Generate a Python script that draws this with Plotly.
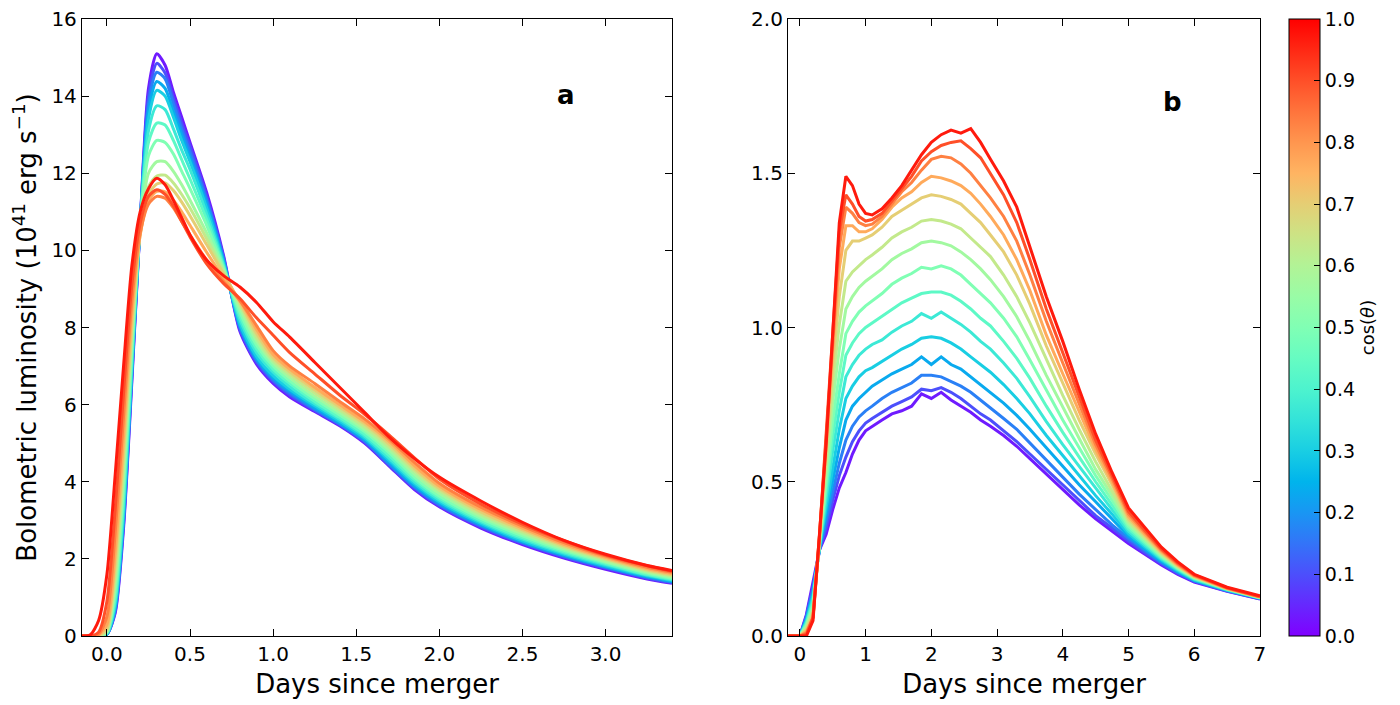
import math
import plotly.graph_objects as go

# cos(theta) of each viewing-angle bin (15 bins over the upper hemisphere)
COS_THETA = [0.033, 0.1, 0.167, 0.233, 0.3, 0.367, 0.433, 0.5, 0.567, 0.633, 0.7, 0.767, 0.833, 0.9, 0.967]

# Panel a: bolometric luminosity [1e41 erg/s] vs days since merger
DAYS_A = [-0.15, -0.1, -0.05, 0.0, 0.05, 0.1, 0.15, 0.2, 0.25, 0.3, 0.35, 0.4, 0.45, 0.5, 0.6, 0.7,
          0.8, 0.9, 1.0, 1.1, 1.25, 1.4, 1.55, 1.7, 1.85, 2.0, 2.25, 2.5, 2.75, 3.0, 3.25, 3.4]
LUM_A_00 = [0, 0, 0, 0.05, 0.6, 2.8, 6.6, 10.7, 14.2, 15.1, 14.8, 14.1, 13.45, 12.8, 11.5, 9.9, 7.9, 7.05, 6.55, 6.2, 5.82, 5.45, 5.0, 4.4, 3.8, 3.35, 2.8, 2.37, 2.02, 1.73, 1.48, 1.37]
LUM_A_01 = [0, 0, 0, 0.05, 0.65, 2.9, 6.7, 10.7, 14.0, 14.85, 14.6, 13.95, 13.3, 12.7, 11.4, 9.85, 7.95, 7.1, 6.6, 6.25, 5.85, 5.48, 5.03, 4.42, 3.83, 3.38, 2.83, 2.4, 2.05, 1.76, 1.5, 1.39]
LUM_A_02 = [0, 0, 0, 0.05, 0.7, 3.0, 6.8, 10.7, 13.8, 14.62, 14.45, 13.8, 13.15, 12.55, 11.3, 9.8, 8.0, 7.15, 6.65, 6.3, 5.88, 5.5, 5.06, 4.45, 3.87, 3.41, 2.86, 2.42, 2.07, 1.78, 1.52, 1.4]
LUM_A_03 = [0, 0, 0, 0.05, 0.75, 3.1, 6.9, 10.7, 13.6, 14.38, 14.2, 13.6, 13.0, 12.4, 11.2, 9.75, 8.05, 7.2, 6.7, 6.35, 5.92, 5.53, 5.1, 4.5, 3.9, 3.45, 2.89, 2.45, 2.1, 1.8, 1.54, 1.42]
LUM_A_04 = [0, 0, 0, 0.06, 0.8, 3.2, 7.0, 10.7, 13.4, 14.15, 14.0, 13.45, 12.85, 12.3, 11.1, 9.7, 8.1, 7.25, 6.75, 6.4, 5.97, 5.57, 5.13, 4.55, 3.95, 3.48, 2.92, 2.47, 2.12, 1.82, 1.56, 1.44]
LUM_A_05 = [0, 0, 0, 0.07, 0.9, 3.4, 7.1, 10.7, 13.1, 13.75, 13.65, 13.15, 12.6, 12.1, 10.95, 9.65, 8.2, 7.35, 6.85, 6.47, 6.02, 5.62, 5.18, 4.6, 4.0, 3.53, 2.96, 2.51, 2.15, 1.85, 1.58, 1.46]
LUM_A_06 = [0, 0, 0, 0.08, 1.0, 3.6, 7.3, 10.7, 12.8, 13.3, 13.25, 12.85, 12.35, 11.85, 10.8, 9.6, 8.3, 7.45, 6.92, 6.55, 6.08, 5.67, 5.23, 4.67, 4.06, 3.58, 3.0, 2.55, 2.18, 1.88, 1.6, 1.48]
LUM_A_07 = [0, 0, 0, 0.1, 1.2, 3.9, 7.5, 10.7, 12.45, 12.85, 12.8, 12.5, 12.05, 11.6, 10.65, 9.55, 8.4, 7.55, 7.0, 6.62, 6.15, 5.73, 5.3, 4.75, 4.12, 3.63, 3.05, 2.6, 2.22, 1.91, 1.63, 1.5]
LUM_A_08 = [0, 0, 0, 0.12, 1.4, 4.2, 7.7, 10.6, 12.0, 12.3, 12.3, 12.05, 11.7, 11.3, 10.45, 9.5, 8.5, 7.65, 7.08, 6.7, 6.22, 5.8, 5.36, 4.82, 4.2, 3.7, 3.1, 2.65, 2.26, 1.94, 1.66, 1.53]
LUM_A_09 = [0, 0, 0, 0.15, 1.6, 4.5, 7.9, 10.5, 11.65, 11.93, 11.95, 11.75, 11.45, 11.1, 10.3, 9.45, 8.6, 7.75, 7.15, 6.78, 6.3, 5.87, 5.43, 4.9, 4.28, 3.77, 3.16, 2.7, 2.3, 1.98, 1.69, 1.56]
LUM_A_10 = [0, 0, 0.02, 0.2, 1.9, 4.8, 8.1, 10.4, 11.45, 11.72, 11.75, 11.55, 11.25, 10.9, 10.15, 9.4, 8.65, 7.85, 7.22, 6.85, 6.38, 5.94, 5.5, 4.97, 4.35, 3.83, 3.22, 2.75, 2.34, 2.01, 1.72, 1.59]
LUM_A_11 = [0, 0, 0.03, 0.3, 2.2, 5.2, 8.4, 10.4, 11.3, 11.53, 11.52, 11.3, 11.0, 10.65, 9.95, 9.3, 8.7, 7.95, 7.3, 6.92, 6.45, 6.0, 5.56, 5.04, 4.42, 3.89, 3.28, 2.8, 2.38, 2.04, 1.75, 1.62]
LUM_A_12 = [0, 0, 0.05, 0.5, 2.7, 5.7, 8.7, 10.45, 11.2, 11.4, 11.35, 11.1, 10.75, 10.4, 9.75, 9.2, 8.7, 8.05, 7.4, 7.0, 6.55, 6.08, 5.63, 5.1, 4.5, 3.96, 3.34, 2.85, 2.42, 2.07, 1.78, 1.65]
LUM_A_13 = [0, 0, 0.1, 0.9, 3.3, 6.3, 9.1, 10.7, 11.4, 11.57, 11.45, 11.15, 10.75, 10.35, 9.65, 9.15, 8.75, 8.25, 7.8, 7.35, 6.8, 6.25, 5.75, 5.2, 4.62, 4.07, 3.42, 2.9, 2.47, 2.1, 1.82, 1.68]
LUM_A_14 = [0, 0.03, 0.4, 1.6, 4.2, 7.0, 9.6, 11.0, 11.6, 11.87, 11.7, 11.3, 10.85, 10.4, 9.75, 9.35, 9.05, 8.65, 8.15, 7.75, 7.1, 6.45, 5.8, 5.15, 4.6, 4.12, 3.5, 2.95, 2.48, 2.12, 1.83, 1.7]

# Panel b: luminosity of the second model [1e41 erg/s]
DAYS_B = [-0.2, 0.0, 0.1, 0.2, 0.3, 0.4, 0.5, 0.6, 0.7, 0.8, 0.9, 1.0, 1.1, 1.25, 1.4, 1.55, 1.7, 1.85, 2.0, 2.15,
          2.3, 2.45, 2.6, 2.75, 2.9, 3.1, 3.3, 3.5, 3.75, 4.0, 4.25, 4.5, 4.75, 5.0, 5.25, 5.5, 5.75, 6.0, 6.5, 7.0]
LUM_B_00 = [0, 0.0, 0.07, 0.17, 0.28, 0.33, 0.41, 0.48, 0.53, 0.59, 0.635, 0.665, 0.68, 0.70, 0.72, 0.73, 0.745, 0.785, 0.77, 0.79, 0.765, 0.745, 0.725, 0.70, 0.68, 0.65, 0.615, 0.575, 0.525, 0.475, 0.425, 0.38, 0.34, 0.30, 0.265, 0.23, 0.20, 0.175, 0.145, 0.12]
LUM_B_01 = [0, 0.0, 0.065, 0.16, 0.28, 0.35, 0.44, 0.52, 0.58, 0.63, 0.665, 0.69, 0.705, 0.725, 0.745, 0.76, 0.775, 0.80, 0.795, 0.805, 0.79, 0.77, 0.745, 0.72, 0.70, 0.665, 0.63, 0.59, 0.54, 0.49, 0.44, 0.39, 0.35, 0.308, 0.27, 0.234, 0.203, 0.177, 0.146, 0.121]
LUM_B_02 = [0, 0.0, 0.06, 0.15, 0.28, 0.37, 0.47, 0.56, 0.635, 0.68, 0.71, 0.73, 0.745, 0.77, 0.79, 0.805, 0.82, 0.845, 0.845, 0.84, 0.825, 0.81, 0.79, 0.765, 0.74, 0.705, 0.67, 0.625, 0.57, 0.515, 0.46, 0.41, 0.36, 0.316, 0.276, 0.238, 0.206, 0.179, 0.147, 0.122]
LUM_B_03 = [0, 0.0, 0.055, 0.14, 0.29, 0.40, 0.51, 0.61, 0.70, 0.745, 0.77, 0.79, 0.81, 0.83, 0.85, 0.865, 0.88, 0.905, 0.88, 0.905, 0.88, 0.865, 0.84, 0.815, 0.79, 0.755, 0.715, 0.67, 0.61, 0.55, 0.49, 0.435, 0.38, 0.324, 0.282, 0.242, 0.209, 0.18, 0.148, 0.122]
LUM_B_04 = [0, 0.0, 0.05, 0.13, 0.29, 0.42, 0.55, 0.67, 0.77, 0.81, 0.84, 0.86, 0.87, 0.89, 0.91, 0.93, 0.945, 0.965, 0.97, 0.965, 0.95, 0.93, 0.905, 0.88, 0.855, 0.815, 0.77, 0.72, 0.65, 0.585, 0.52, 0.455, 0.395, 0.332, 0.288, 0.246, 0.212, 0.182, 0.149, 0.123]
LUM_B_05 = [0, 0.0, 0.045, 0.12, 0.29, 0.45, 0.60, 0.73, 0.84, 0.88, 0.91, 0.93, 0.945, 0.96, 0.985, 1.005, 1.02, 1.045, 1.03, 1.05, 1.03, 1.01, 0.985, 0.955, 0.93, 0.885, 0.835, 0.775, 0.695, 0.62, 0.55, 0.48, 0.41, 0.34, 0.294, 0.25, 0.215, 0.184, 0.15, 0.124]
LUM_B_06 = [0, 0.0, 0.04, 0.11, 0.30, 0.48, 0.65, 0.79, 0.91, 0.95, 0.98, 1.00, 1.015, 1.035, 1.06, 1.08, 1.095, 1.11, 1.115, 1.115, 1.105, 1.085, 1.06, 1.03, 1.005, 0.955, 0.90, 0.835, 0.745, 0.66, 0.58, 0.50, 0.425, 0.348, 0.30, 0.254, 0.218, 0.186, 0.151, 0.124]
LUM_B_07 = [0, 0.0, 0.035, 0.10, 0.30, 0.51, 0.70, 0.85, 0.98, 1.02, 1.05, 1.07, 1.085, 1.11, 1.14, 1.16, 1.175, 1.195, 1.19, 1.20, 1.19, 1.17, 1.14, 1.11, 1.08, 1.03, 0.97, 0.895, 0.795, 0.70, 0.61, 0.52, 0.44, 0.356, 0.306, 0.258, 0.22, 0.188, 0.152, 0.125]
LUM_B_08 = [0, 0.0, 0.03, 0.09, 0.31, 0.54, 0.76, 0.93, 1.06, 1.10, 1.13, 1.15, 1.165, 1.19, 1.22, 1.24, 1.255, 1.275, 1.28, 1.275, 1.265, 1.245, 1.22, 1.19, 1.155, 1.10, 1.035, 0.955, 0.845, 0.74, 0.64, 0.54, 0.455, 0.364, 0.312, 0.262, 0.223, 0.19, 0.153, 0.125]
LUM_B_09 = [0, 0.0, 0.025, 0.08, 0.31, 0.57, 0.82, 1.01, 1.15, 1.18, 1.20, 1.22, 1.235, 1.26, 1.29, 1.31, 1.325, 1.345, 1.35, 1.345, 1.335, 1.32, 1.29, 1.26, 1.23, 1.17, 1.10, 1.015, 0.895, 0.78, 0.67, 0.565, 0.47, 0.372, 0.318, 0.266, 0.225, 0.191, 0.153, 0.126]
LUM_B_10 = [0, 0.0, 0.02, 0.07, 0.32, 0.60, 0.88, 1.10, 1.25, 1.28, 1.28, 1.29, 1.30, 1.325, 1.36, 1.38, 1.40, 1.42, 1.43, 1.425, 1.415, 1.40, 1.37, 1.34, 1.30, 1.245, 1.17, 1.075, 0.94, 0.82, 0.70, 0.59, 0.49, 0.38, 0.324, 0.27, 0.228, 0.193, 0.154, 0.126]
LUM_B_11 = [0, 0.0, 0.015, 0.06, 0.32, 0.62, 0.93, 1.19, 1.33, 1.33, 1.31, 1.31, 1.32, 1.35, 1.39, 1.42, 1.44, 1.47, 1.49, 1.485, 1.475, 1.46, 1.435, 1.40, 1.36, 1.30, 1.22, 1.12, 0.975, 0.85, 0.725, 0.605, 0.50, 0.388, 0.33, 0.274, 0.23, 0.194, 0.154, 0.127]
LUM_B_12 = [0, 0.0, 0.01, 0.06, 0.33, 0.63, 0.96, 1.26, 1.39, 1.37, 1.34, 1.33, 1.335, 1.36, 1.40, 1.44, 1.47, 1.51, 1.545, 1.555, 1.55, 1.53, 1.50, 1.46, 1.42, 1.36, 1.28, 1.17, 1.02, 0.885, 0.75, 0.62, 0.51, 0.396, 0.336, 0.278, 0.233, 0.196, 0.155, 0.127]
LUM_B_13 = [0, 0.0, 0.005, 0.06, 0.33, 0.64, 0.98, 1.31, 1.43, 1.40, 1.36, 1.345, 1.35, 1.37, 1.41, 1.45, 1.49, 1.54, 1.57, 1.59, 1.60, 1.605, 1.58, 1.55, 1.50, 1.43, 1.34, 1.22, 1.06, 0.92, 0.775, 0.635, 0.52, 0.404, 0.342, 0.282, 0.236, 0.198, 0.156, 0.128]
LUM_B_14 = [0, 0.0, 0.0, 0.05, 0.33, 0.62, 0.98, 1.34, 1.49, 1.46, 1.40, 1.37, 1.365, 1.385, 1.42, 1.46, 1.51, 1.56, 1.60, 1.625, 1.64, 1.63, 1.645, 1.60, 1.545, 1.475, 1.39, 1.26, 1.10, 0.955, 0.80, 0.655, 0.53, 0.415, 0.35, 0.288, 0.24, 0.2, 0.158, 0.13]

LUM_A = [LUM_A_00, LUM_A_01, LUM_A_02, LUM_A_03, LUM_A_04, LUM_A_05, LUM_A_06, LUM_A_07,
         LUM_A_08, LUM_A_09, LUM_A_10, LUM_A_11, LUM_A_12, LUM_A_13, LUM_A_14]
LUM_B = [LUM_B_00, LUM_B_01, LUM_B_02, LUM_B_03, LUM_B_04, LUM_B_05, LUM_B_06, LUM_B_07,
         LUM_B_08, LUM_B_09, LUM_B_10, LUM_B_11, LUM_B_12, LUM_B_13, LUM_B_14]


def rainbow(v):
    # matplotlib "rainbow" colormap
    r = min(1.0, abs(2 * v - 0.5))
    g = math.sin(math.pi * v)
    b = math.cos(math.pi * v / 2)
    return "rgb(%d,%d,%d)" % (round(r * 255), round(g * 255), round(b * 255))


RAINBOW_SCALE = [[i / 20, rainbow(i / 20)] for i in range(21)]
FONT = "DejaVu Sans"

fig = go.Figure()
for c, ya, yb in zip(COS_THETA, LUM_A, LUM_B):
    assert len(ya) == len(DAYS_A) and len(yb) == len(DAYS_B)
    col = rainbow(c)
    fig.add_trace(go.Scatter(x=DAYS_A, y=ya, mode="lines",
                             line=dict(color=col, width=3, shape="spline", smoothing=0.7),
                             showlegend=False, xaxis="x", yaxis="y"))
    fig.add_trace(go.Scatter(x=DAYS_B, y=yb, mode="lines", line=dict(color=col, width=3),
                             showlegend=False, xaxis="x2", yaxis="y2"))

# colour bar only
fig.add_trace(go.Scatter(
    x=[None, None], y=[None, None], mode="markers", xaxis="x2", yaxis="y2", showlegend=False,
    marker=dict(color=[0, 1], cmin=0, cmax=1, colorscale=RAINBOW_SCALE, showscale=True,
                colorbar=dict(x=0.975, xanchor="left", y=0.5, yanchor="middle", len=1, lenmode="fraction",
                              thickness=31, thicknessmode="pixels", outlinewidth=1, outlinecolor="black",
                              ticks="inside", ticklen=6, tickcolor="black", tickvals=[i / 10 for i in range(11)],
                              tickformat=".1f", tickfont=dict(family=FONT, size=19, color="black"),
                              ticklabeloverflow="allow", xpad=0, ypad=0,
                              title=dict(text="cos(<i>θ</i>)", side="right",
                                         font=dict(family=FONT, size=18, color="black")))),
))

axis_common = dict(showline=True, linecolor="black", linewidth=1.3, mirror="ticks", ticks="inside",
                   ticklen=7, tickcolor="black", showgrid=False, zeroline=False, ticklabeloverflow="allow",
                   tickfont=dict(family=FONT, size=20, color="black"), automargin=False)

# the page body adds an 8 px offset, so margins are shifted to keep the plot where the reference has it
fig.update_layout(
    width=1400, height=705,
    margin=dict(l=74, r=88, t=11, b=77),
    paper_bgcolor="white", plot_bgcolor="white",
    font=dict(family=FONT, color="black"),
    xaxis=dict(domain=[0, 0.4766], range=[-0.15, 3.4], tickvals=[0, 0.5, 1, 1.5, 2, 2.5, 3], tickformat=".1f",
               title=dict(text="Days since merger", font=dict(family=FONT, size=26), standoff=9), **axis_common),
    yaxis=dict(domain=[0, 1], range=[0, 16], tickvals=list(range(0, 17, 2)),
               title=dict(text="Bolometric luminosity (10<sup>41</sup> erg s<sup>−1</sup>)",
                          font=dict(family=FONT, size=26), standoff=8), **axis_common),
    xaxis2=dict(domain=[0.5703, 0.9515], range=[-0.18, 7], tickvals=list(range(0, 8)),
                title=dict(text="Days since merger", font=dict(family=FONT, size=26), standoff=9),
                anchor="y2", **axis_common),
    yaxis2=dict(domain=[0, 1], range=[0, 2], tickvals=[0, 0.5, 1, 1.5, 2], tickformat=".1f",
                anchor="x2", **axis_common),
    annotations=[
        dict(text="<b>a</b>", x=2.76, y=14.03, xref="x", yref="y", showarrow=False,
             font=dict(family=FONT, size=26, color="black")),
        dict(text="<b>b</b>", x=5.67, y=1.73, xref="x2", yref="y2", showarrow=False,
             font=dict(family=FONT, size=26, color="black")),
    ],
)

fig.write_html("out.html")
